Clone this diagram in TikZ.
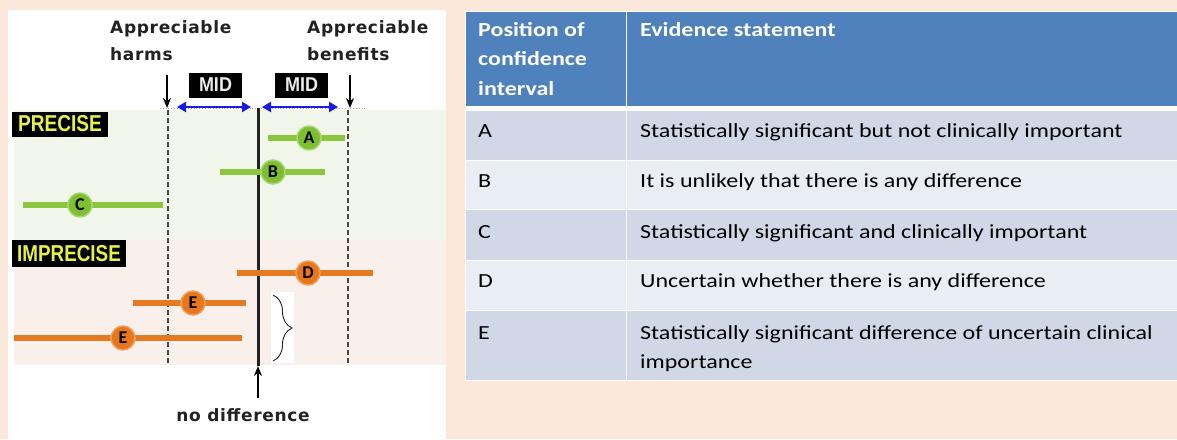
\documentclass[tikz,border=0pt]{standalone}
\usepackage{fontspec}
\setmainfont{Carlito}
\newfontfamily\dvsb[LetterSpace=4]{DejaVu Sans Bold}
\newfontfamily\libb{Liberation Sans Bold}
\newfontfamily\carb{Carlito Bold}
\usetikzlibrary{arrows.meta,decorations.pathreplacing}
\definecolor{peach}{HTML}{FCE8DA}
\definecolor{bandG}{HTML}{F1F5EA}
\definecolor{bandP}{HTML}{F9F0EC}
\definecolor{hdr}{HTML}{4F81BD}
\definecolor{rowA}{HTML}{D0D8E8}
\definecolor{rowB}{HTML}{E9EDF4}
\definecolor{grn}{HTML}{8CC63F}
\definecolor{grnC}{HTML}{7DBE32}
\definecolor{grnH}{HTML}{A8D870}
\definecolor{org}{HTML}{E67A22}
\definecolor{orgC}{HTML}{E8761A}
\definecolor{orgH}{HTML}{F0A060}
\definecolor{yel}{HTML}{E6F04A}
\definecolor{midblue}{HTML}{1A1AE6}
\definecolor{ink}{HTML}{222222}
\newcommand{\hx}[1]{\scalebox{1.2}[1]{#1}}
\newcommand{\bx}[1]{\scalebox{1.2}[1]{#1}}
\begin{document}
\begin{tikzpicture}[x=1pt,y=-1pt,
  lbl/.style={font=\dvsb\fontsize{17}{20}\selectfont, text=ink, inner sep=0pt},
  midbox/.style={fill=black, text=white!92!black, minimum width=53pt, minimum height=25pt, inner sep=0pt,
     font=\libb\fontsize{20}{20}\selectfont},
  tagbox/.style={fill=black, text=yel, inner sep=0pt, font=\libb\fontsize{23}{24}\selectfont},
  darr/.style={draw=black, line width=1.6pt, -{Stealth[length=10pt,width=8pt]}},
  barr/.style={draw=midblue, line width=2.2pt, {Triangle[length=9pt,width=10pt]}-{Triangle[length=9pt,width=10pt]}},
  dashline/.style={draw=black!72, line width=2.4pt, dash pattern=on 5pt off 3pt},
  zeroline/.style={draw=ink, line width=3pt},
  gline/.style={draw=grn, line width=5.5pt},
  oline/.style={draw=org, line width=5.5pt},
  gdot/.style={circle, fill=grnC, draw=grnH, line width=1.5pt, minimum size=24pt, inner sep=0pt,
     font=\carb\fontsize{18}{18}\selectfont, text=black},
  odot/.style={circle, fill=orgC, draw=orgH, line width=1.5pt, minimum size=24pt, inner sep=0pt,
     font=\carb\fontsize{18}{18}\selectfont, text=black},
  cell/.style={draw=white, line width=1pt, anchor=north west, inner sep=0pt},
  htxt/.style={font=\carb\fontsize{20}{24}\selectfont, text=white, inner sep=0pt, anchor=base west},
  btxt/.style={font=\fontsize{20}{24}\selectfont, text=black, inner sep=0pt, anchor=base west}
]
\useasboundingbox (0,0) rectangle (1177,439);
\fill[peach] (0,0) rectangle (1177,439);
% left panel
\fill[white] (8,10) rectangle (446,439);
\fill[bandG] (14,110) rectangle (446,240);
\fill[bandP] (14,240) rectangle (446,365);

\node[lbl, anchor=base west] (ah1) at (110,33) {Appreciable};
\node[lbl, anchor=base west] (ah2) at (110,60) {harms};
\node[lbl, anchor=base west] (ab1) at (307,33) {Appreciable};
\node[lbl, anchor=base west] (ab2) at (307,60) {benefits};

\node[midbox] (m1) at (215.5,85) {\scalebox{0.9}[1]{MID}};
\node[midbox] (m2) at (301.5,85) {\scalebox{0.9}[1]{MID}};

\coordinate (hT) at (168,110);
\coordinate (hB) at (168,365);
\coordinate (bT) at (348,110);
\coordinate (bB) at (348,365);
\coordinate (zT) at (258,108);
\coordinate (zB) at (258,366);
\coordinate (hA) at (167,75);
\coordinate (hE) at (167,108);
\coordinate (bA) at (350,75);
\coordinate (bE) at (350,108);
\coordinate (m1L) at (177,107);
\coordinate (m1R) at (251,107);
\coordinate (m2L) at (262,107);
\coordinate (m2R) at (338,107);

\draw[black!35, line width=0.8pt, dotted] (160,108) -- (365,108);
\draw[dashline] (hT) -- (hB);
\draw[dashline] (bT) -- (bB);
\draw[zeroline] (zT) -- (zB);
\draw[darr] (hA) -- (hE);
\draw[darr] (bA) -- (bE);
\draw[barr] (m1L) -- (m1R);
\draw[barr] (m2L) -- (m2R);

\node[tagbox, minimum width=96pt, minimum height=25pt] (pre) at (60,124) {\scalebox{0.83}[1]{PRECISE}};
\node[tagbox, minimum width=114pt, minimum height=27pt] (impre) at (69,253.5) {\scalebox{0.82}[1]{IMPRECISE}};

% intervals
\coordinate (A1) at (268,138); \coordinate (A2) at (345,138);
\coordinate (B1) at (220,172); \coordinate (B2) at (325,172);
\coordinate (C1) at (23,205);  \coordinate (C2) at (163,205);
\coordinate (D1) at (237,273); \coordinate (D2) at (373,273);
\coordinate (E1) at (133,303); \coordinate (E2) at (246,303);
\coordinate (F1) at (14,338);  \coordinate (F2) at (242,338);
\draw[gline] (A1) -- (A2);
\draw[gline] (B1) -- (B2);
\draw[gline] (C1) -- (C2);
\draw[oline] (D1) -- (D2);
\draw[oline] (E1) -- (E2);
\draw[oline] (F1) -- (F2);
\node[gdot] (ca) at (309,138) {A};
\node[gdot] (cb) at (273,172) {B};
\node[gdot] (cc) at (80,205) {C};
\node[odot] (cd) at (308,273) {D};
\node[odot] (ce) at (193,303) {E};
\node[odot] (cf) at (123,338) {E};

% brace
\fill[white] (271,292) rectangle (294,363);
\coordinate (brT) at (273,295);
\coordinate (brB) at (273,361);
\draw[ink, line width=0.9pt, decorate, decoration={brace, amplitude=19pt}] (brT) -- (brB);

% no difference
\coordinate (ndA) at (258,398);
\draw[darr] (ndA) -- (zB);
\node[lbl, anchor=base] (nd) at (243,421) {no difference};

% table
\node[cell, fill=hdr, minimum width=161pt, minimum height=95pt] (h1) at (465,11) {};
\node[cell, fill=hdr, minimum width=551pt, minimum height=95pt] (h2) at (626,11) {};
\fill[white] (465,106) rectangle (1177,110);
\node[cell, fill=rowA, minimum width=161pt, minimum height=50pt] (a1) at (465,110) {};
\node[cell, fill=rowA, minimum width=551pt, minimum height=50pt] (a2) at (626,110) {};
\node[cell, fill=rowB, minimum width=161pt, minimum height=49pt] (b1) at (465,160) {};
\node[cell, fill=rowB, minimum width=551pt, minimum height=49pt] (b2) at (626,160) {};
\node[cell, fill=rowA, minimum width=161pt, minimum height=51pt] (c1) at (465,209) {};
\node[cell, fill=rowA, minimum width=551pt, minimum height=51pt] (c2) at (626,209) {};
\node[cell, fill=rowB, minimum width=161pt, minimum height=50pt] (d1) at (465,260) {};
\node[cell, fill=rowB, minimum width=551pt, minimum height=50pt] (d2) at (626,260) {};
\node[cell, fill=rowA, minimum width=161pt, minimum height=70pt] (e1) at (465,310) {};
\node[cell, fill=rowA, minimum width=551pt, minimum height=70pt] (e2) at (626,310) {};

\node[htxt] (t1) at (478,36) {\hx{Position of}};
\node[htxt] (t2) at (478,65.5) {\hx{confidence}};
\node[htxt] (t3) at (478,95) {\hx{interval}};
\node[htxt] (t4) at (640,36) {\hx{Evidence statement}};

\node[btxt] (la) at (478,137) {\bx{A}};
\node[btxt] (sa) at (640,137) {\bx{Statistically significant but not clinically important}};
\node[btxt] (lb) at (478,187) {\bx{B}};
\node[btxt] (sb) at (640,187) {\bx{It is unlikely that there is any difference}};
\node[btxt] (lc) at (478,238) {\bx{C}};
\node[btxt] (sc) at (640,238) {\bx{Statistically significant and clinically important}};
\node[btxt] (ld) at (478,287) {\bx{D}};
\node[btxt] (sd) at (640,287) {\bx{Uncertain whether there is any difference}};
\node[btxt] (le) at (478,339) {\bx{E}};
\node[btxt] (se1) at (640,339) {\bx{Statistically significant difference of uncertain clinical}};
\node[btxt] (se2) at (640,368) {\bx{importance}};
\end{tikzpicture}
\end{document}
